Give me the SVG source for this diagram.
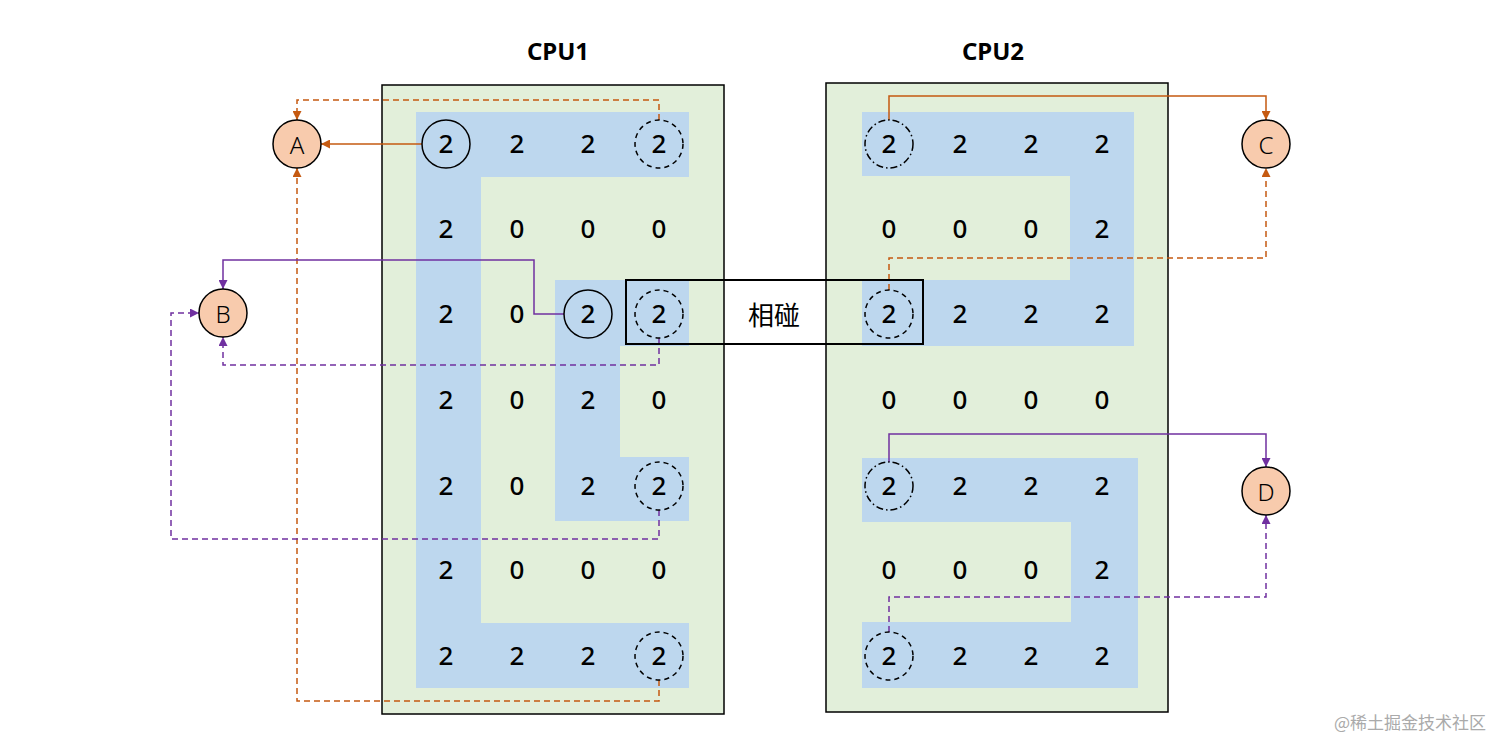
<svg xmlns="http://www.w3.org/2000/svg" width="1512" height="753" viewBox="0 0 1512 753">
<defs>
<marker id="ao" viewBox="0 0 10 10" refX="10" refY="5" markerWidth="9" markerHeight="9" markerUnits="userSpaceOnUse" orient="auto"><path d="M0,0 L10,5 L0,10 z" fill="#C55A11"/></marker>
<marker id="ap" viewBox="0 0 10 10" refX="10" refY="5" markerWidth="9" markerHeight="9" markerUnits="userSpaceOnUse" orient="auto"><path d="M0,0 L10,5 L0,10 z" fill="#7030A0"/></marker>
</defs>
<style>
.cpu{fill:#E2EFDA;stroke:#000;stroke-width:1.5}
.blue{fill:#BDD7EE}
.num{font-family:"Noto Sans","Open Sans",sans-serif;font-size:26px;font-weight:500;fill:#000;text-anchor:middle;dominant-baseline:central}
.title{font-family:"Noto Sans","Liberation Sans",sans-serif;font-size:24px;font-weight:bold;fill:#000;text-anchor:middle;dominant-baseline:central}
.lbl{font-family:"Noto Sans","Open Sans",sans-serif;font-size:24px;font-weight:300;fill:#000;text-anchor:middle;dominant-baseline:central}
.node{fill:#F8CBAD;stroke:#000;stroke-width:1.5}
.solid{fill:none;stroke:#000;stroke-width:1.5}
.dash{fill:none;stroke:#000;stroke-width:1.5;stroke-dasharray:5 4}
.dashdot{fill:none;stroke:#000;stroke-width:1.5;stroke-dasharray:7 3 1.5 3}
.o{fill:none;stroke:#C55A11;stroke-width:1.5}
.p{fill:none;stroke:#7030A0;stroke-width:1.5}
.dl{stroke-dasharray:6 4}
</style>
<rect width="1512" height="753" fill="#fff"/>

<g id="cpu1">
<rect class="cpu" x="382" y="85" width="342" height="629"/>
<rect class="blue" x="416" y="112" width="273" height="65"/>
<rect class="blue" x="416" y="112" width="65" height="576"/>
<rect class="blue" x="416" y="623" width="273" height="65"/>
<rect class="blue" x="555" y="280" width="65" height="241"/>
<rect class="blue" x="555" y="280" width="134" height="66"/>
<rect class="blue" x="555" y="457" width="134" height="64"/>
<text class="title" x="558" y="50">CPU1</text>
</g>

<g id="cpu2">
<rect class="cpu" x="826" y="83" width="342" height="629"/>
<rect class="blue" x="862" y="112" width="272" height="64"/>
<rect class="blue" x="1070" y="112" width="64" height="234"/>
<rect class="blue" x="862" y="280" width="272" height="66"/>
<rect class="blue" x="862" y="458" width="276" height="64"/>
<rect class="blue" x="1071" y="458" width="67" height="230"/>
<rect class="blue" x="862" y="622" width="276" height="66"/>
<text class="title" x="993" y="50">CPU2</text>
</g>

<g id="connectors">
<line class="o" x1="422" y1="144" x2="321" y2="144" marker-end="url(#ao)"/>
<polyline class="o dl" points="659,120 659,100 297,100 297,120" marker-end="url(#ao)"/>
<polyline class="o dl" points="659,680 659,701 297,701 297,168" marker-end="url(#ao)"/>
<polyline class="p" points="564,314 534,314 534,260 223,260 223,289" marker-end="url(#ap)"/>
<polyline class="p dl" points="659,338 659,365 223,365 223,337" marker-end="url(#ap)"/>
<polyline class="p dl" points="659,510 659,539 171,539 171,313 199,313" marker-end="url(#ap)"/>
<polyline class="o" points="889,120 889,96 1266,96 1266,120" marker-end="url(#ao)"/>
<polyline class="o dl" points="889,290 889,258 1266,258 1266,168" marker-end="url(#ao)"/>
<polyline class="p" points="889,462 889,434 1266,434 1266,467" marker-end="url(#ap)"/>
<polyline class="p dl" points="889,632 889,597 1266,597 1266,515" marker-end="url(#ap)"/>
</g>

<g id="cpu1-cells">
<circle class="solid" cx="446" cy="144" r="24"/>
<circle class="dash" cx="659" cy="144" r="24"/>
<circle class="solid" cx="588" cy="314" r="24"/>
<circle class="dash" cx="659" cy="314" r="24"/>
<circle class="dash" cx="659" cy="486" r="24"/>
<circle class="dash" cx="659" cy="656" r="24"/>
<text class="num" x="446" y="143">2</text><text class="num" x="517" y="143">2</text><text class="num" x="588" y="143">2</text><text class="num" x="659" y="143">2</text>
<text class="num" x="446" y="228">2</text><text class="num" x="517" y="228">0</text><text class="num" x="588" y="228">0</text><text class="num" x="659" y="228">0</text>
<text class="num" x="446" y="313">2</text><text class="num" x="517" y="313">0</text><text class="num" x="588" y="313">2</text><text class="num" x="659" y="313">2</text>
<text class="num" x="446" y="399">2</text><text class="num" x="517" y="399">0</text><text class="num" x="588" y="399">2</text><text class="num" x="659" y="399">0</text>
<text class="num" x="446" y="485">2</text><text class="num" x="517" y="485">0</text><text class="num" x="588" y="485">2</text><text class="num" x="659" y="485">2</text>
<text class="num" x="446" y="569">2</text><text class="num" x="517" y="569">0</text><text class="num" x="588" y="569">0</text><text class="num" x="659" y="569">0</text>
<text class="num" x="446" y="655">2</text><text class="num" x="517" y="655">2</text><text class="num" x="588" y="655">2</text><text class="num" x="659" y="655">2</text>
</g>

<g id="cpu2-cells">
<circle class="dashdot" cx="889" cy="144" r="24"/>
<circle class="dash" cx="889" cy="314" r="24"/>
<circle class="dashdot" cx="889" cy="486" r="24"/>
<circle class="dash" cx="889" cy="656" r="24"/>
<text class="num" x="889" y="143">2</text><text class="num" x="960" y="143">2</text><text class="num" x="1031" y="143">2</text><text class="num" x="1102" y="143">2</text>
<text class="num" x="889" y="228">0</text><text class="num" x="960" y="228">0</text><text class="num" x="1031" y="228">0</text><text class="num" x="1102" y="228">2</text>
<text class="num" x="889" y="313">2</text><text class="num" x="960" y="313">2</text><text class="num" x="1031" y="313">2</text><text class="num" x="1102" y="313">2</text>
<text class="num" x="889" y="399">0</text><text class="num" x="960" y="399">0</text><text class="num" x="1031" y="399">0</text><text class="num" x="1102" y="399">0</text>
<text class="num" x="889" y="485">2</text><text class="num" x="960" y="485">2</text><text class="num" x="1031" y="485">2</text><text class="num" x="1102" y="485">2</text>
<text class="num" x="889" y="569">0</text><text class="num" x="960" y="569">0</text><text class="num" x="1031" y="569">0</text><text class="num" x="1102" y="569">2</text>
<text class="num" x="889" y="655">2</text><text class="num" x="960" y="655">2</text><text class="num" x="1031" y="655">2</text><text class="num" x="1102" y="655">2</text>
</g>

<g id="collision">
<rect x="626" y="280" width="297" height="64" fill="none" stroke="#000" stroke-width="2"/>
<text x="774" y="313" font-family="'Noto Sans CJK SC',sans-serif" font-size="26" text-anchor="middle" dominant-baseline="central">相碰</text>
</g>

<g id="node-A"><circle class="node" cx="297" cy="144" r="24"/><text class="lbl" x="297" y="144">A</text></g>
<g id="node-B"><circle class="node" cx="223" cy="313" r="24"/><text class="lbl" x="223" y="313">B</text></g>
<g id="node-C"><circle class="node" cx="1266" cy="144" r="24"/><text class="lbl" x="1266" y="144">C</text></g>
<g id="node-D"><circle class="node" cx="1266" cy="491" r="24"/><text class="lbl" x="1266" y="491">D</text></g>

<text x="1410" y="721" font-family="'Noto Sans CJK SC',sans-serif" font-size="17" fill="#aaa" text-anchor="middle" dominant-baseline="central">@稀土掘金技术社区</text>
</svg>
